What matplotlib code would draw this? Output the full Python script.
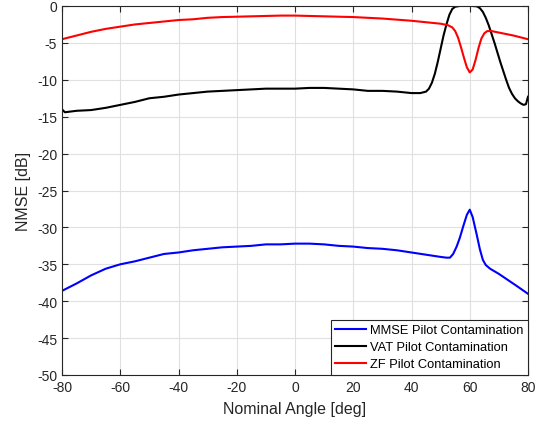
import matplotlib.pyplot as plt

plt.rcParams['font.family'] = ['Liberation Sans', 'DejaVu Sans']
plt.rcParams['axes.unicode_minus'] = False

# MMSE pilot contamination
mmse_x = [-80, -75, -70, -65, -60, -55, -50, -45, -40, -35, -30, -25, -20, -15, -10, -5, 0, 5, 10, 15, 20, 25, 30, 35, 40, 45, 50, 52, 53.2, 54.3, 55.5, 56.6, 57.8, 59, 60, 61, 62.4, 63.5, 64.5, 65.5, 67, 70, 73, 76, 80]
mmse_y = [-38.6, -37.6, -36.5, -35.6, -35.0, -34.6, -34.1, -33.6, -33.4, -33.1, -32.9, -32.7, -32.6, -32.5, -32.3, -32.3, -32.2, -32.2, -32.3, -32.5, -32.6, -32.8, -32.9, -33.1, -33.4, -33.7, -34.0, -34.1, -34.1, -33.6, -32.6, -31.4, -29.8, -28.3, -27.6, -28.6, -31.0, -33.0, -34.4, -35.1, -35.6, -36.3, -37.1, -37.9, -39.0]

# VAT pilot contamination
vat_x = [-80, -79, -77, -75, -70, -65, -60, -55, -50, -45, -40, -35, -30, -25, -20, -15, -10, -5, 0, 5, 10, 15, 20, 25, 30, 35, 40, 43, 45, 46, 47, 48, 49, 50, 51, 52, 53, 54, 55, 56.5, 58, 59.5, 61, 62.5, 63.5, 64.5, 65.5, 66.5, 67.5, 68.5, 69.5, 70.5, 71.5, 72.5, 73.5, 74.5, 75.5, 76.5, 77.5, 78.5, 79.3, 80]
vat_y = [-14.0, -14.4, -14.3, -14.2, -14.1, -13.8, -13.4, -13.0, -12.5, -12.3, -12.0, -11.8, -11.6, -11.5, -11.4, -11.3, -11.2, -11.2, -11.2, -11.1, -11.1, -11.2, -11.3, -11.5, -11.5, -11.6, -11.8, -11.8, -11.6, -11.2, -10.4, -9.2, -7.6, -5.8, -4.0, -2.5, -1.2, -0.4, -0.1, 0.0, 0.3, 0.3, 0.0, -0.05, -0.3, -0.8, -1.6, -2.6, -3.8, -5.0, -6.3, -7.6, -8.8, -10.0, -11.1, -11.9, -12.5, -12.9, -13.2, -13.4, -13.3, -12.3]

# ZF pilot contamination
zf_x = [-80, -75, -70, -65, -60, -55, -50, -45, -40, -35, -30, -25, -20, -15, -10, -5, 0, 5, 10, 15, 20, 25, 30, 35, 40, 45, 50, 52.5, 54, 55, 56, 57, 58, 59, 60, 61, 62, 63, 64, 65, 66, 67.5, 70, 75, 80]
zf_y = [-4.5, -4.0, -3.5, -3.1, -2.8, -2.5, -2.3, -2.1, -1.9, -1.8, -1.6, -1.5, -1.45, -1.4, -1.35, -1.3, -1.3, -1.35, -1.4, -1.45, -1.5, -1.6, -1.7, -1.85, -2.0, -2.2, -2.4, -2.6, -2.9, -3.4, -4.3, -5.6, -7.0, -8.3, -9.0, -8.6, -7.3, -5.7, -4.4, -3.7, -3.4, -3.4, -3.6, -4.0, -4.5]

fig = plt.figure(figsize=(5.44, 4.31), dpi=100)
ax = fig.add_axes([62 / 544, 1 - 376 / 431, 466 / 544, 369 / 431])

ax.plot(mmse_x, mmse_y, color='#0000ff', lw=1.5, label='MMSE Pilot Contamination')
ax.plot(vat_x, vat_y, color='black', lw=1.5, label='VAT Pilot Contamination')
ax.plot(zf_x, zf_y, color='#ff0000', lw=1.5, label='ZF Pilot Contamination')

ax.set_xlim(-80, 80)
ax.set_ylim(-50, 0)
ax.set_xticks(range(-80, 81, 20))
ax.set_yticks(range(-50, 1, 5))
ax.grid(True, color='#e0e0e0', lw=0.8)
ax.set_axisbelow(True)
ax.tick_params(direction='in', top=True, right=True, labelsize=10, colors='#262626', length=4)
ax.tick_params(axis='x', pad=3.5)
for s in ax.spines.values():
    s.set_color('#262626')
    s.set_linewidth(0.8)

ax.set_xlabel('Nominal Angle [deg]', fontsize=11.5, color='#262626', labelpad=5)
ax.set_ylabel('NMSE [dB]', fontsize=11.5, color='#262626')

leg = ax.legend(loc='lower right', fontsize=9.3, fancybox=False, edgecolor='#262626',
                framealpha=1, handlelength=2.4, handletextpad=0.3, borderpad=0.35,
                labelspacing=0.4, borderaxespad=0)
leg.get_frame().set_linewidth(0.8)

fig.savefig('out.png', dpi=100)
